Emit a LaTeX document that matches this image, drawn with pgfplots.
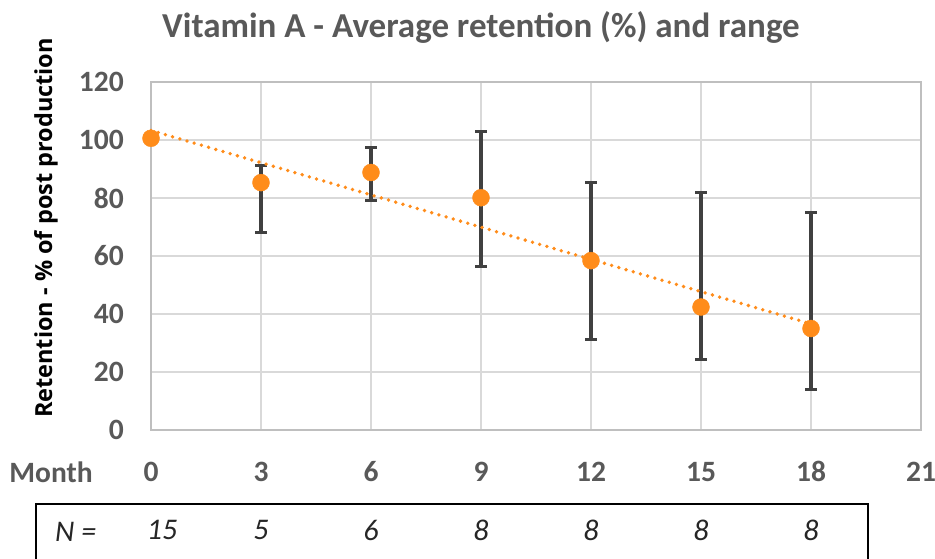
\documentclass[border=0pt]{standalone}
\usepackage{pgfplots}
\pgfplotsset{compat=1.18}
\usepackage{fontspec}
\setmainfont{Carlito}
\newfontfamily\labelfont{Open Sans}
\definecolor{ttl}{HTML}{595959}
\definecolor{grd}{HTML}{D9D9D9}
\definecolor{axl}{HTML}{BFBFBF}
\definecolor{org}{HTML}{FF8C1A}
\definecolor{ebar}{HTML}{404040}
\pgfplotstableread{
x y
0 100.6
3 85.3
6 88.8
9 80.1
12 58.4
15 42.4
18 35.0
}\datatab
\tikzset{nfont/.style={font=\fontsize{30}{34}\selectfont\itshape, text=black!85}}
\begin{document}
\begin{tikzpicture}[x=1pt,y=1pt]
\path[use as bounding box] (0,0) rectangle (935,558);
\begin{axis}[
  at={(151pt,128pt)}, anchor=south west,
  scale only axis, width=770pt, height=348pt,
  xmin=0, xmax=21, ymin=0, ymax=120,
  xtick={0,3,...,21}, ytick={0,20,...,120},
  grid=major, grid style={grd, line width=1.3pt},
  axis line style={axl, line width=1.3pt},
  major tick length=0pt,
  /pgf/number format/assume math mode=true,
  tick label style={font=\fontsize{29.5}{34}\selectfont\bfseries, text=ttl},
  xticklabel style={anchor=base, yshift=-51.5pt},
  yticklabel style={anchor=east, xshift=-27pt, inner sep=0pt},
  clip=false, unbounded coords=jump,
]
% range bars (min to max)
\addplot[ebar, line width=3.2pt, forget plot] coordinates {
  (3,68.2) (3,91.1) (nan,nan)
  (6,79.2) (6,97.4) (nan,nan)
  (9,56.3) (9,102.9) (nan,nan)
  (12,31.1) (12,85.4) (nan,nan)
  (15,24.2) (15,82.0) (nan,nan)
  (18,14.1) (18,75.0)
};
% caps
\addplot[ebar, line width=3.2pt, forget plot] coordinates {
  (2.84,68.2) (3.16,68.2) (nan,nan) (2.84,91.1) (3.16,91.1) (nan,nan)
  (5.84,79.2) (6.16,79.2) (nan,nan) (5.84,97.4) (6.16,97.4) (nan,nan)
  (8.84,56.3) (9.16,56.3) (nan,nan) (8.84,102.9) (9.16,102.9) (nan,nan)
  (11.84,31.1) (12.16,31.1) (nan,nan) (11.84,85.4) (12.16,85.4) (nan,nan)
  (14.84,24.2) (15.16,24.2) (nan,nan) (14.84,82.0) (15.16,82.0) (nan,nan)
  (17.84,14.1) (18.16,14.1) (nan,nan) (17.84,75.0) (18.16,75.0)
};
\addplot[only marks, mark=*, mark size=8.5pt, mark options={fill=org, draw=org}]
  table[x=x, y=y] {\datatab};
\addplot[org, line width=3.8pt, line cap=round, dash pattern=on 0pt off 7.5pt]
  coordinates {(0,103.3) (18,36.6)};
\node[nfont] at (axis cs:0.3,-34.5) {15};
\node[nfont] at (axis cs:3,-34.5) {5};
\node[nfont] at (axis cs:6,-34.5) {6};
\node[nfont] at (axis cs:9,-34.5) {8};
\node[nfont] at (axis cs:12,-34.5) {8};
\node[nfont] at (axis cs:15,-34.5) {8};
\node[nfont] at (axis cs:18,-34.5) {8};
\end{axis}
\node[font=\fontsize{35}{40}\selectfont\bfseries, text=ttl] at (481,531) {Vitamin A - Average retention (\%) and range};
\node[font=\fontsize{29.5}{34}\selectfont\bfseries, text=ttl] at (51,86) {Month};
\node[nfont, anchor=west, inner sep=0pt] at (55,26) {N =};
\node[font=\labelfont\fontsize{23.5}{27}\selectfont\bfseries, rotate=90] at (46,330) {Retention - \% of post production};
\draw[black, line width=2.8pt] (36,-10) -- (36,54) -- (868,54) -- (868,-10);
\end{tikzpicture}
\end{document}
